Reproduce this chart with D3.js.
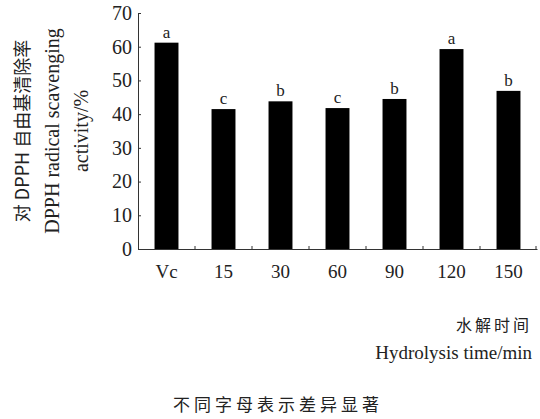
<!DOCTYPE html>
<html>
<head>
<meta charset="utf-8">
<script src="https://cdn.jsdelivr.net/npm/d3@7/dist/d3.min.js"></script>
<style>
  html, body { margin: 0; padding: 0; background: #fff; }
  svg text { fill: #222; }
</style>
</head>
<body>
<script>
var categories = ['Vc', '15', '30', '60', '90', '120', '150'];
var values = [61.2, 41.5, 43.8, 41.8, 44.5, 59.3, 46.9];
var letters = ['a', 'c', 'b', 'c', 'b', 'a', 'b'];
var yTicks = [0, 10, 20, 30, 40, 50, 60, 70];

var width = 540, height = 419;
var SERIF = '"Liberation Serif", "Times New Roman", serif';
var CJK = '"Noto Sans CJK SC", sans-serif';

var svg = d3.select('body').append('svg')
    .attr('width', width)
    .attr('height', height);

var x = d3.scaleBand()
    .domain(categories)
    .range([138, 537])
    .paddingInner(0.58)
    .paddingOuter(0.29);

var y = d3.scaleLinear()
    .domain([0, 70])
    .range([249, 13]);

// bars
svg.append('g').selectAll('rect')
    .data(values)
    .enter().append('rect')
      .attr('x', function(d, i) { return x(categories[i]); })
      .attr('y', function(d) { return y(d); })
      .attr('width', x.bandwidth())
      .attr('height', function(d) { return y(0) - y(d); })
      .attr('fill', '#000');

// significance letters
svg.append('g').selectAll('text')
    .data(values)
    .enter().append('text')
      .attr('x', function(d, i) { return x(categories[i]) + x.bandwidth() / 2; })
      .attr('y', function(d) { return y(d) - 5; })
      .attr('text-anchor', 'middle')
      .style('font-family', SERIF)
      .style('font-size', '17px')
      .text(function(d, i) { return letters[i]; });

// y axis
var yAxis = svg.append('g')
    .attr('transform', 'translate(138,0)')
    .call(d3.axisLeft(y).tickValues(yTicks).tickSizeInner(-3).tickSizeOuter(0).tickPadding(6));
yAxis.selectAll('text').style('font-family', SERIF).style('font-size', '20px').style('fill', '#222');

// x axis
var xAxis = svg.append('g')
    .attr('transform', 'translate(0,249)')
    .call(d3.axisBottom(x).tickSize(0).tickPadding(16));
xAxis.selectAll('text').style('font-family', SERIF).style('font-size', '19px').style('fill', '#222');

// small upward ticks at the category boundaries
var bounds = categories.slice(1).map(function(c) { return x(c) - x.step() * x.paddingInner() / 2; });
bounds.push(x.range()[1] - 1);
svg.append('g').selectAll('line')
    .data(bounds)
    .enter().append('line')
      .attr('x1', function(d) { return d; })
      .attr('x2', function(d) { return d; })
      .attr('y1', y(0))
      .attr('y2', y(0) - 3)
      .attr('stroke', '#333');

svg.selectAll('.domain, .tick line').attr('stroke', '#333');

// y axis title
var yt = svg.append('g').attr('transform', 'translate(0,131) rotate(-90)');
yt.append('text')
    .attr('y', 29)
    .attr('text-anchor', 'middle')
    .style('font-family', CJK)
    .style('font-size', '18px')
    .text('对 DPPH 自由基清除率');
yt.append('text')
    .attr('y', 59)
    .attr('text-anchor', 'middle')
    .style('font-family', SERIF)
    .style('font-size', '20px')
    .text('DPPH radical scavenging');
yt.append('text')
    .attr('y', 88)
    .attr('text-anchor', 'middle')
    .style('font-family', SERIF)
    .style('font-size', '20px')
    .text('activity/%');

// x axis title
svg.append('text')
    .attr('x', 532)
    .attr('y', 331)
    .attr('text-anchor', 'end')
    .style('font-family', CJK)
    .style('font-size', '16px')
    .style('letter-spacing', '3px')
    .text('水解时间');
svg.append('text')
    .attr('x', 532)
    .attr('y', 359)
    .attr('text-anchor', 'end')
    .style('font-family', SERIF)
    .style('font-size', '19px')
    .text('Hydrolysis time/min');

// note
svg.append('text')
    .attr('x', 278)
    .attr('y', 411)
    .attr('text-anchor', 'middle')
    .style('font-family', CJK)
    .style('font-size', '17px')
    .style('letter-spacing', '4px')
    .text('不同字母表示差异显著');
</script>
</body>
</html>
